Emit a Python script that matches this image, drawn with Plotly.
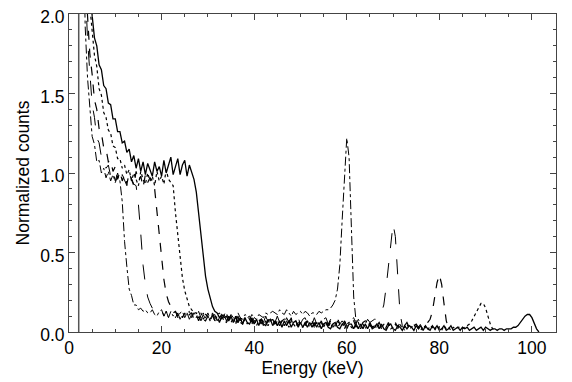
import numpy as np
import plotly.graph_objects as go

# Energy grid start and step (keV) shared by all spectra
E_START = 3.0
E_STEP = 0.5

# Spectrum A (dash-dot): cutoff ~11 keV, peak at 60 keV
spec_a = [2.6, 1.92, 1.60, 1.42, 1.23, 1.18, 1.07, 1.08, 1.00, 1.03, 0.97, 1.01, 0.95, 0.99, 0.94, 0.98, 0.95,
          0.82, 0.57, 0.41, 0.27, 0.23, 0.17, 0.17, 0.14, 0.15, 0.13, 0.14, 0.12,
          0.12, 0.14, 0.11, 0.10, 0.13, 0.14, 0.10, 0.13, 0.09, 0.13, 0.10, 0.13, 0.09, 0.12, 0.13, 0.09,
          0.12, 0.13, 0.09, 0.12, 0.09, 0.13, 0.09, 0.12, 0.09, 0.12, 0.08, 0.12, 0.09, 0.11, 0.12, 0.08,
          0.11, 0.12, 0.08, 0.11, 0.09, 0.08, 0.12, 0.09, 0.08, 0.11, 0.10, 0.08, 0.11, 0.09, 0.08, 0.11,
          0.10, 0.09, 0.12, 0.11, 0.12, 0.13, 0.12, 0.11, 0.14, 0.12, 0.11, 0.14, 0.12, 0.10, 0.13, 0.11,
          0.12, 0.13, 0.11, 0.13, 0.12, 0.10, 0.12, 0.12, 0.11, 0.13, 0.12, 0.13, 0.14, 0.14, 0.15, 0.17,
          0.20, 0.27, 0.42, 0.70, 1.00, 1.22, 1.10, 0.62, 0.22, 0.07, 0.02]

# Spectrum B (long dash): cutoff ~15 keV, peak at 70 keV
spec_b = [2.9, 2.2, 1.84, 1.64, 1.43, 1.35, 1.22, 1.19, 1.10, 1.10, 1.03, 1.05, 0.98, 1.02, 0.95, 1.00, 0.94,
          0.99, 0.95, 0.92, 1.00, 0.96, 0.93, 0.92, 0.80, 0.62, 0.42, 0.30, 0.22, 0.18, 0.15, 0.14, 0.13,
          0.12, 0.14, 0.10, 0.13, 0.09, 0.12, 0.13, 0.09, 0.12, 0.08, 0.12, 0.09, 0.12, 0.08, 0.11, 0.12,
          0.08, 0.11, 0.07, 0.11, 0.08, 0.11, 0.07, 0.10, 0.11, 0.07, 0.10, 0.07, 0.11, 0.07, 0.10, 0.07,
          0.10, 0.06, 0.10, 0.07, 0.10, 0.06, 0.09, 0.10, 0.06, 0.09, 0.10, 0.06, 0.09, 0.06, 0.10, 0.06,
          0.09, 0.07, 0.06, 0.10, 0.06, 0.09, 0.05, 0.09, 0.06, 0.09, 0.05, 0.08, 0.09, 0.05, 0.08, 0.09,
          0.05, 0.08, 0.05, 0.09, 0.05, 0.08, 0.05, 0.08, 0.09, 0.05, 0.08, 0.05, 0.08, 0.09, 0.05, 0.07,
          0.05, 0.08, 0.05, 0.08, 0.09, 0.05, 0.08, 0.05, 0.08, 0.05, 0.08, 0.06, 0.07, 0.08, 0.08, 0.09,
          0.12, 0.17, 0.28, 0.42, 0.58, 0.68, 0.60, 0.34, 0.12, 0.04, 0.01]

# Spectrum C (dash): cutoff ~19 keV, peak at 80 keV
spec_c = [2.8, 2.3, 1.99, 1.75, 1.62, 1.46, 1.40, 1.28, 1.25, 1.16, 1.15, 1.07, 1.08, 1.01, 1.04, 0.96, 1.01,
          0.95, 0.99, 0.93, 1.00, 0.96, 0.92, 1.01, 0.95, 0.98, 0.91, 0.99, 0.94, 0.97, 0.95, 0.90, 0.76,
          0.62, 0.45, 0.33, 0.24, 0.19, 0.16, 0.12, 0.13, 0.10, 0.13, 0.09, 0.12, 0.08, 0.11, 0.12, 0.08,
          0.11, 0.07, 0.11, 0.08, 0.07, 0.10, 0.07, 0.11, 0.07, 0.10, 0.06, 0.10, 0.07, 0.06, 0.10, 0.07,
          0.06, 0.09, 0.06, 0.09, 0.05, 0.09, 0.06, 0.05, 0.09, 0.06, 0.05, 0.08, 0.05, 0.09, 0.05, 0.08,
          0.04, 0.08, 0.05, 0.08, 0.04, 0.07, 0.08, 0.04, 0.07, 0.08, 0.04, 0.07, 0.04, 0.07, 0.08, 0.04,
          0.07, 0.04, 0.07, 0.04, 0.07, 0.04, 0.07, 0.03, 0.07, 0.04, 0.07, 0.04, 0.03, 0.07, 0.05, 0.03,
          0.07, 0.04, 0.03, 0.06, 0.07, 0.03, 0.06, 0.03, 0.06, 0.07, 0.03, 0.06, 0.03, 0.06, 0.04, 0.06,
          0.03, 0.06, 0.03, 0.06, 0.03, 0.04, 0.06, 0.03, 0.06, 0.03, 0.04, 0.06, 0.03, 0.02, 0.04, 0.05,
          0.03, 0.05, 0.04, 0.06, 0.06, 0.08, 0.13, 0.22, 0.31, 0.36, 0.30, 0.18, 0.07, 0.02]

# Spectrum D (dotted): cutoff ~23 keV, peak at 90 keV
spec_d = [3.0, 2.6, 2.3, 2.05, 1.90, 1.74, 1.67, 1.53, 1.49, 1.38, 1.35, 1.27, 1.25, 1.17, 1.16, 1.09, 1.09,
          1.03, 1.05, 0.99, 1.02, 0.95, 1.00, 0.96, 0.92, 1.01, 0.96, 0.93, 1.00, 0.95, 0.98, 0.92, 1.01,
          0.95, 0.98, 0.93, 1.02, 0.96, 0.94,
          0.92, 0.75, 0.60, 0.46, 0.34, 0.26, 0.20, 0.16, 0.14, 0.12,
          0.12, 0.09, 0.12, 0.08, 0.11, 0.10, 0.07, 0.11, 0.07, 0.10, 0.06, 0.10, 0.07, 0.06, 0.09, 0.06,
          0.09, 0.05, 0.09, 0.06, 0.05, 0.08, 0.05, 0.08, 0.05, 0.08, 0.04, 0.07, 0.08, 0.04, 0.07, 0.04,
          0.07, 0.08, 0.04, 0.07, 0.04, 0.07, 0.04, 0.07, 0.03, 0.07, 0.05, 0.03, 0.07, 0.04, 0.03, 0.06,
          0.07, 0.03, 0.06, 0.03, 0.06, 0.03, 0.06, 0.03, 0.06, 0.03, 0.06, 0.02, 0.06, 0.03, 0.05, 0.06,
          0.02, 0.05, 0.06, 0.03, 0.02, 0.05, 0.06, 0.02, 0.05, 0.02, 0.05, 0.04, 0.02, 0.05, 0.02, 0.05,
          0.02, 0.05, 0.02, 0.05, 0.02, 0.03, 0.05, 0.02, 0.05, 0.02, 0.03, 0.05, 0.02, 0.03, 0.05, 0.02,
          0.03, 0.01, 0.04, 0.03, 0.01, 0.04, 0.03, 0.01, 0.04, 0.02, 0.01, 0.04, 0.02, 0.03, 0.01, 0.03,
          0.02, 0.03, 0.03, 0.02, 0.03, 0.04, 0.05, 0.07, 0.10, 0.13, 0.16, 0.18, 0.18, 0.15, 0.10, 0.05,
          0.02, 0.01]

# Spectrum E (solid): cutoff ~27 keV, peak at 100 keV
spec_e = [3.2, 2.8, 2.45, 2.12, 1.99, 1.85, 1.80, 1.68, 1.65, 1.55, 1.53, 1.44, 1.43, 1.34, 1.34, 1.26, 1.26,
          1.19, 1.20, 1.13, 1.15, 1.07, 1.11, 1.03, 1.09, 1.01, 1.07, 0.99, 1.06, 1.02, 0.98, 1.07, 1.01,
          1.04, 0.98, 1.08, 1.00, 1.05, 1.10, 0.99, 1.04, 1.09, 0.99, 1.05, 1.08, 0.98, 1.05, 1.00, 0.96,
          0.88, 0.74, 0.60, 0.46, 0.35, 0.27, 0.21, 0.16, 0.13, 0.12, 0.09, 0.11, 0.09, 0.10, 0.07, 0.10,
          0.06, 0.10, 0.06, 0.09, 0.05, 0.09, 0.06, 0.05, 0.08, 0.05, 0.08, 0.04, 0.08, 0.05, 0.04, 0.07,
          0.08, 0.04, 0.07, 0.04, 0.07, 0.03, 0.07, 0.04, 0.07, 0.03, 0.06, 0.07, 0.03, 0.06, 0.03, 0.06,
          0.03, 0.06, 0.03, 0.06, 0.03, 0.06, 0.02, 0.05, 0.06, 0.03, 0.02, 0.05, 0.06, 0.03, 0.02, 0.05,
          0.05, 0.02, 0.05, 0.05, 0.02, 0.05, 0.02, 0.05, 0.02, 0.05, 0.02, 0.05, 0.02, 0.03, 0.05, 0.02,
          0.05, 0.02, 0.01, 0.04, 0.05, 0.02, 0.01, 0.04, 0.03, 0.01, 0.04, 0.02, 0.04, 0.03, 0.01, 0.04,
          0.02, 0.04, 0.01, 0.04, 0.02, 0.01, 0.04, 0.02, 0.04, 0.01, 0.02, 0.04, 0.01, 0.02, 0.04, 0.01,
          0.02, 0.03, 0.01, 0.03, 0.02, 0.03, 0.01, 0.02, 0.03, 0.01, 0.02, 0.03, 0.01, 0.03, 0.02, 0.01,
          0.02, 0.02, 0.01, 0.02, 0.02, 0.01, 0.02, 0.02, 0.02, 0.03, 0.03, 0.04, 0.06, 0.08, 0.10, 0.11,
          0.11, 0.09, 0.05, 0.02, 0.0]

SPECTRA = [spec_a, spec_b, spec_c, spec_d, spec_e]
DASHES = ["dashdot", "longdash", "dash", "dot", "solid"]
WIDTHS = [1, 1, 1.2, 1.2, 1.3]

# Detector-edge marker line (keV)
VLINE_KEV = 2.1

X_TICKS = [0, 20, 40, 60, 80, 100]
Y_TICKS = [0.0, 0.5, 1.0, 1.5, 2.0]

FONT = "Liberation Sans, Arial, sans-serif"
FSIZE = 17.5

fig = go.Figure()
for y, dash, w in zip(SPECTRA, DASHES, WIDTHS):
    x = E_START + E_STEP * np.arange(len(y))
    fig.add_trace(go.Scatter(x=x, y=y, mode="lines",
                             line=dict(color="black", width=w, dash=dash),
                             showlegend=False, hoverinfo="skip"))

fig.add_vline(x=VLINE_KEV, line=dict(color="#555555", width=1.5))

axis_common = dict(showline=True, linecolor="#444444", linewidth=1, mirror="allticks",
                   ticks="inside", tickcolor="#444444", showgrid=False, zeroline=False,
                   automargin=False, ticklabeloverflow="allow",
                   tickfont=dict(family=FONT, size=FSIZE, color="black"))

fig.update_xaxes(range=[0, 105.2], tickvals=X_TICKS, ticklen=6,
                 minor=dict(dtick=5, ticklen=3, ticks="inside", tickcolor="#444444"),
                 title=dict(text="Energy (keV)", font=dict(family=FONT, size=FSIZE, color="black"), standoff=4),
                 **axis_common)
fig.update_yaxes(range=[0, 2.0], tickvals=Y_TICKS, tickformat=".1f", ticklen=6,
                 ticklabelshift=3,
                 minor=dict(dtick=0.1, ticklen=3, ticks="inside", tickcolor="#444444"),
                 title=dict(text="Normalized counts", font=dict(family=FONT, size=FSIZE, color="black"), standoff=6),
                 **axis_common)

# The page body adds an 8 px offset, so the figure is sized to fill the window from there
fig.update_layout(width=564, height=374, margin=dict(l=61, r=16, t=6, b=50),
                  plot_bgcolor="white", paper_bgcolor="white")

fig.write_html("out.html")
